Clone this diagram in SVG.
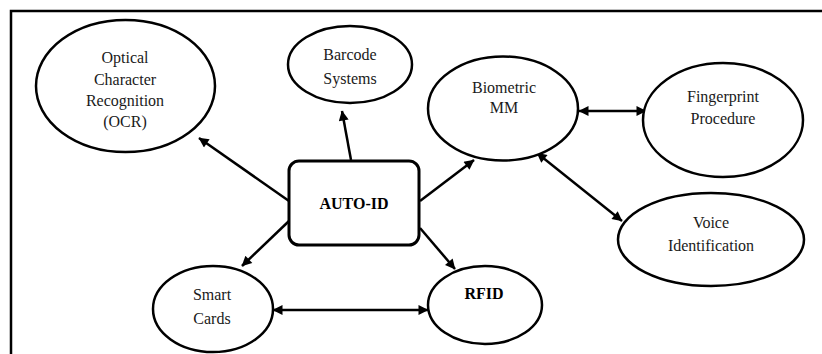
<svg xmlns="http://www.w3.org/2000/svg" width="822" height="354" viewBox="0 0 822 354">
  <defs>
    <marker id="arrow" viewBox="0 0 10 10" refX="9.5" refY="5" markerWidth="5" markerHeight="4" markerUnits="strokeWidth" orient="auto-start-reverse">
      <path d="M0,0 L10,5 L0,10 Z" fill="#000000"/>
    </marker>
  </defs>

  <rect width="822" height="354" fill="#ffffff"/>

  <!-- outer frame: top and left borders -->
  <path d="M11,354 L11,11 L822,11" fill="none" stroke="#000000" stroke-width="2.5"/>

  <!-- connectors -->
  <g id="connectors" stroke="#000000" stroke-width="2.5" fill="none">
    <line x1="289" y1="201" x2="199" y2="138" marker-end="url(#arrow)"/>
    <line x1="351" y1="160" x2="342" y2="111" marker-end="url(#arrow)"/>
    <line x1="420" y1="201" x2="474" y2="160" marker-end="url(#arrow)"/>
    <line x1="289" y1="221" x2="242" y2="266" marker-end="url(#arrow)"/>
    <line x1="420" y1="228" x2="455" y2="269" marker-end="url(#arrow)"/>
    <line x1="273" y1="310" x2="428" y2="310" marker-start="url(#arrow)" marker-end="url(#arrow)"/>
    <line x1="579" y1="111" x2="646" y2="111" marker-start="url(#arrow)" marker-end="url(#arrow)"/>
    <line x1="537" y1="153" x2="622" y2="221" marker-start="url(#arrow)" marker-end="url(#arrow)"/>
  </g>

  <g id="node-ocr">
    <ellipse cx="125.5" cy="86" rx="89.5" ry="66" fill="#ffffff" stroke="#000000" stroke-width="2.5"/>
    <text x="125" y="63" font-family="Liberation Serif" font-size="16" fill="#1a1a1a" text-anchor="middle">Optical</text>
    <text x="125" y="85" font-family="Liberation Serif" font-size="16" fill="#1a1a1a" text-anchor="middle">Character</text>
    <text x="125" y="106" font-family="Liberation Serif" font-size="16" fill="#1a1a1a" text-anchor="middle">Recognition</text>
    <text x="125" y="127" font-family="Liberation Serif" font-size="16" fill="#1a1a1a" text-anchor="middle">(OCR)</text>
  </g>

  <g id="node-barcode">
    <ellipse cx="350" cy="64.5" rx="62" ry="38.5" fill="#ffffff" stroke="#000000" stroke-width="2.5"/>
    <text x="350" y="60" font-family="Liberation Serif" font-size="16" fill="#1a1a1a" text-anchor="middle">Barcode</text>
    <text x="350" y="84" font-family="Liberation Serif" font-size="16" fill="#1a1a1a" text-anchor="middle">Systems</text>
  </g>

  <g id="node-biometric">
    <ellipse cx="503" cy="108.5" rx="75" ry="52" fill="#ffffff" stroke="#000000" stroke-width="2.5"/>
    <text x="504" y="93" font-family="Liberation Serif" font-size="16" fill="#1a1a1a" text-anchor="middle">Biometric</text>
    <text x="504" y="113" font-family="Liberation Serif" font-size="16" fill="#1a1a1a" text-anchor="middle">MM</text>
  </g>

  <g id="node-fingerprint">
    <ellipse cx="723" cy="120" rx="80" ry="57" fill="#ffffff" stroke="#000000" stroke-width="2.5"/>
    <text x="723" y="102" font-family="Liberation Serif" font-size="16" fill="#1a1a1a" text-anchor="middle">Fingerprint</text>
    <text x="723" y="124" font-family="Liberation Serif" font-size="16" fill="#1a1a1a" text-anchor="middle">Procedure</text>
  </g>

  <g id="node-voice">
    <ellipse cx="711" cy="239.5" rx="93" ry="46.5" fill="#ffffff" stroke="#000000" stroke-width="2.5"/>
    <text x="711" y="228" font-family="Liberation Serif" font-size="16" fill="#1a1a1a" text-anchor="middle">Voice</text>
    <text x="711" y="251" font-family="Liberation Serif" font-size="16" fill="#1a1a1a" text-anchor="middle">Identification</text>
  </g>

  <g id="node-autoid">
    <rect x="289" y="161" width="130" height="84" rx="10" ry="10" fill="#ffffff" stroke="#000000" stroke-width="3"/>
    <text x="354" y="209" font-family="Liberation Serif" font-size="16" font-weight="bold" fill="#000000" text-anchor="middle">AUTO-ID</text>
  </g>

  <g id="node-smartcards">
    <ellipse cx="213" cy="309" rx="60" ry="43" fill="#ffffff" stroke="#000000" stroke-width="2.5"/>
    <text x="212" y="300" font-family="Liberation Serif" font-size="16" fill="#1a1a1a" text-anchor="middle">Smart</text>
    <text x="212" y="324" font-family="Liberation Serif" font-size="16" fill="#1a1a1a" text-anchor="middle">Cards</text>
  </g>

  <g id="node-rfid">
    <ellipse cx="485" cy="305" rx="57" ry="39" fill="#ffffff" stroke="#000000" stroke-width="2.5"/>
    <text x="484" y="299" font-family="Liberation Serif" font-size="16" font-weight="bold" fill="#000000" text-anchor="middle">RFID</text>
  </g>
</svg>
